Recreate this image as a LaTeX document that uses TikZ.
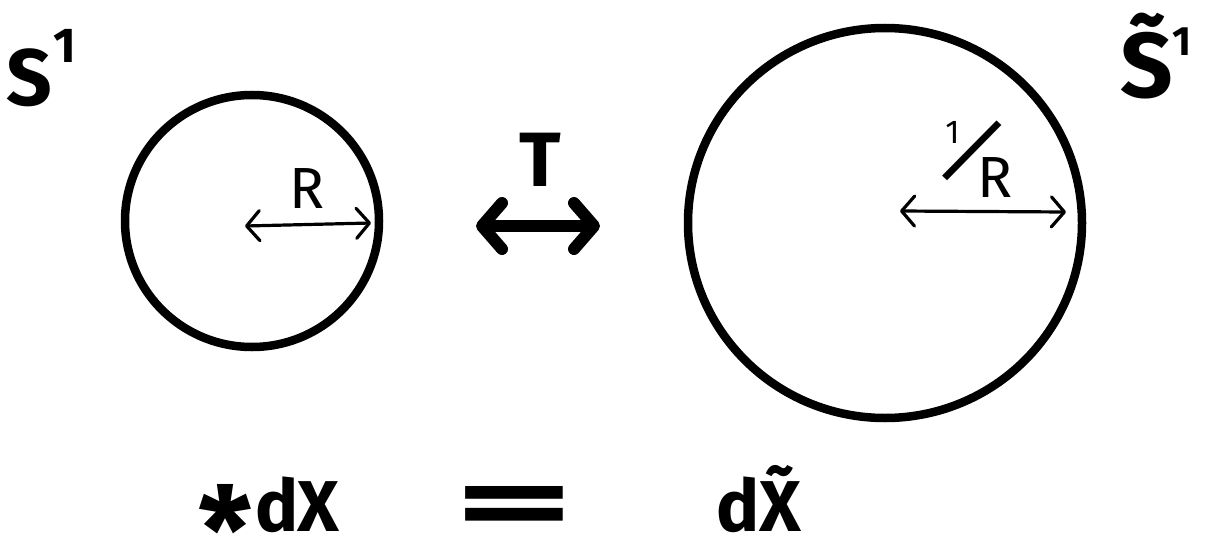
\documentclass[tikz,border=0pt]{standalone}
\usepackage{fontspec}
\setmainfont{Fira Sans}
\usetikzlibrary{arrows.meta,shapes.geometric}
\begin{document}
\begin{tikzpicture}[x=1pt,y=-1pt,
  circ/.style={draw=black, line width=8.5pt, ellipse, inner sep=0pt},
  thinarrow/.style={line width=3.2pt, line cap=round,
    {Straight Barb[length=13pt,width=30pt,line width=3.2pt,round]}-{Straight Barb[length=13pt,width=30pt,line width=3.2pt,round]}},
  thickarrow/.style={line width=12pt,
    {Straight Barb[length=20pt,width=46pt,line width=12pt,round]}-{Straight Barb[length=20pt,width=46pt,line width=12pt,round]}},
  lbl/.style={inner sep=0pt, outer sep=0pt}
]
\useasboundingbox (0,0) rectangle (1210,543);
% circles
\node[circ, minimum width=254pt, minimum height=252pt] (lc) at (252,221) {};
\node[circ, minimum width=394pt, minimum height=390pt] (rc) at (885,223) {};
% radius arrows
\coordinate (ra) at (245,226);
\coordinate (rb) at (371,223);
\draw[thinarrow] (ra) -- (rb);
\coordinate (qa) at (900,211);
\coordinate (qb) at (1066,212);
\draw[thinarrow] (qa) -- (qb);
% T-duality arrow
\coordinate (ta) at (476,226);
\coordinate (tb) at (600,226);
\draw[thickarrow] (ta) -- (tb);
% labels
\node[lbl, anchor=base west, font=\bfseries\fontsize{80}{80}\selectfont] (s1) at (6,105)
  {S\kern2pt\raisebox{43pt}{\fontsize{49}{49}\selectfont 1}};
\node[lbl, anchor=base west, font=\bfseries\fontsize{92}{92}\selectfont] (st1) at (1120,97)
  {S̃\kern0pt\raisebox{42pt}{\fontsize{41}{41}\selectfont 1}};
\node[lbl, anchor=base, font=\bfseries\fontsize{77}{77}\selectfont] (T) at (540,186) {T};
\node[lbl, anchor=base, font=\fontsize{58}{58}\selectfont] (R) at (307,208) {R};
\node[lbl, anchor=base east, font=\fontsize{58}{58}\selectfont] (invR) at (1013,197)
  {\raisebox{54pt}[0pt][0pt]{\fontsize{33}{33}\selectfont 1}\kern-26pt\raisebox{32pt}{\scalebox{1.45}{\rotatebox{-30}{/}}}\kern-32pt R};
\node[lbl, anchor=base west, font=\bfseries\fontsize{72}{72}\selectfont] (lhs) at (198,531)
  {\raisebox{-42pt}[0pt][0pt]{\fontsize{120}{120}\selectfont *}\kern4pt d\kern-2pt X};
\node[lbl, font=\bfseries] (eq) at (515,512) {\resizebox{120pt}{52pt}{=}};
\node[lbl, anchor=base west, font=\bfseries\fontsize{72}{72}\selectfont] (rhs) at (716,531)
  {dX̃};
\end{tikzpicture}
\end{document}
